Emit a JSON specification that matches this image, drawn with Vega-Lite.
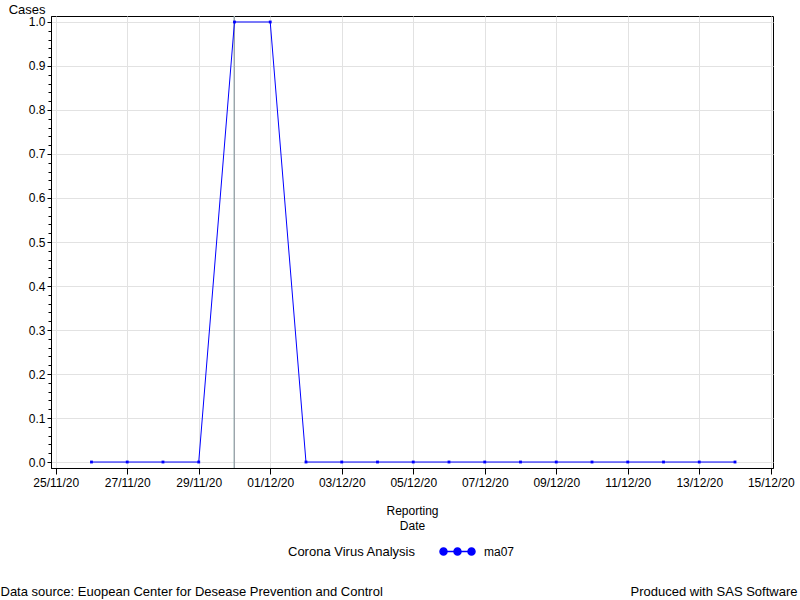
{
  "$schema": "https://vega.github.io/schema/vega-lite/v6.json",
  "width": 722,
  "height": 452,
  "autosize": {"type": "none"},
  "padding": {"left": 51, "top": 16, "right": 27, "bottom": 132},
  "background": "white",
  "config": {
    "font": "Liberation Sans",
    "view": {"stroke": "black", "strokeWidth": 1},
    "axis": {
      "labelFont": "Liberation Sans", "labelFontSize": 12, "labelColor": "black",
      "titleFont": "Liberation Sans", "titleFontSize": 12, "titleFontWeight": "normal", "titleColor": "black",
      "domainColor": "black", "tickColor": "black", "gridColor": "#e2e2e2"
    },
    "legend": {
      "titleFont": "Liberation Sans", "labelFont": "Liberation Sans"
    }
  },
  "data": {
    "values": [
      {"date": "2020-11-26T00:00:00", "cases": 0, "series": "ma07"},
      {"date": "2020-11-27T00:00:00", "cases": 0, "series": "ma07"},
      {"date": "2020-11-28T00:00:00", "cases": 0, "series": "ma07"},
      {"date": "2020-11-29T00:00:00", "cases": 0, "series": "ma07"},
      {"date": "2020-11-30T00:00:00", "cases": 1, "series": "ma07"},
      {"date": "2020-12-01T00:00:00", "cases": 1, "series": "ma07"},
      {"date": "2020-12-02T00:00:00", "cases": 0, "series": "ma07"},
      {"date": "2020-12-03T00:00:00", "cases": 0, "series": "ma07"},
      {"date": "2020-12-04T00:00:00", "cases": 0, "series": "ma07"},
      {"date": "2020-12-05T00:00:00", "cases": 0, "series": "ma07"},
      {"date": "2020-12-06T00:00:00", "cases": 0, "series": "ma07"},
      {"date": "2020-12-07T00:00:00", "cases": 0, "series": "ma07"},
      {"date": "2020-12-08T00:00:00", "cases": 0, "series": "ma07"},
      {"date": "2020-12-09T00:00:00", "cases": 0, "series": "ma07"},
      {"date": "2020-12-10T00:00:00", "cases": 0, "series": "ma07"},
      {"date": "2020-12-11T00:00:00", "cases": 0, "series": "ma07"},
      {"date": "2020-12-12T00:00:00", "cases": 0, "series": "ma07"},
      {"date": "2020-12-13T00:00:00", "cases": 0, "series": "ma07"},
      {"date": "2020-12-14T00:00:00", "cases": 0, "series": "ma07"}
    ]
  },
  "layer": [
    {
      "mark": {"type": "rule", "color": "#9ea4ab", "strokeWidth": 1},
      "encoding": {
        "x": {
          "datum": {"year": 2020, "month": 11, "date": 30},
          "type": "temporal",
          "scale": {"domain": [{"year": 2020, "month": 11, "date": 24, "hours": 20, "minutes": 50}, {"year": 2020, "month": 12, "date": 15, "hours": 1, "minutes": 30}]},
          "axis": {
            "orient": "bottom", "title": "Produced with SAS Software",
            "labels": false, "ticks": false, "domain": false, "grid": false, "titleFontSize": 13,
            "titleAnchor": "end", "titleAlign": "right", "titleX": 746, "titleY": 127, "titleBaseline": "alphabetic"
          }
        }
      }
    },
    {
      "mark": {"type": "line", "color": "#0000ff", "strokeWidth": 1},
      "encoding": {
        "x": {
          "field": "date", "type": "temporal",
          "scale": {"domain": [{"year": 2020, "month": 11, "date": 24, "hours": 20, "minutes": 50}, {"year": 2020, "month": 12, "date": 15, "hours": 1, "minutes": 30}]},
          "axis": {
            "orient": "bottom", "title": ["Reporting", "Date"], "format": "%d/%m/%y",
            "values": [
              {"year": 2020, "month": 11, "date": 25}, {"year": 2020, "month": 11, "date": 27}, {"year": 2020, "month": 11, "date": 29},
              {"year": 2020, "month": 12, "date": 1}, {"year": 2020, "month": 12, "date": 3}, {"year": 2020, "month": 12, "date": 5},
              {"year": 2020, "month": 12, "date": 7}, {"year": 2020, "month": 12, "date": 9}, {"year": 2020, "month": 12, "date": 11},
              {"year": 2020, "month": 12, "date": 13}, {"year": 2020, "month": 12, "date": 15}
            ],
            "tickSize": 6, "labelPadding": 3, "titlePadding": 17, "titleLineHeight": 15, "grid": true,
            "labelFlush": false, "labelOverlap": false
          }
        },
        "y": {
          "field": "cases", "type": "quantitative",
          "scale": {"domain": [-0.0136, 1.0136], "nice": false, "zero": false},
          "axis": {
            "orient": "left",
            "title": "Cases", "titleAngle": 0, "titleAlign": "right", "titleX": -6, "titleY": -3, "titleBaseline": "alphabetic", "titleFontSize": 13,
            "values": [0, 0.1, 0.2, 0.3, 0.4, 0.5, 0.6, 0.7, 0.8, 0.9, 1.0],
            "format": ".1f", "tickSize": 4, "labelPadding": 2, "grid": true, "labelOverlap": false
          }
        },
        "color": {
          "field": "series", "type": "nominal",
          "scale": {"range": ["#0000ff"]},
          "legend": {
            "orient": "none", "legendX": 237, "legendY": 517, "direction": "horizontal",
            "title": "Corona Virus Analysis", "titleOrient": "left", "titleAnchor": "middle", "titleBaseline": "top",
            "titleFontSize": 13, "titleFontWeight": "normal", "titleColor": "black",
            "labelFontSize": 12, "labelColor": "black",
            "symbolType": "M-0.8,0L0.8,0M-1,0a0.2,0.2 0 1,0 0.4,0a0.2,0.2 0 1,0 -0.4,0M-0.2,0a0.2,0.2 0 1,0 0.4,0a0.2,0.2 0 1,0 -0.4,0M0.6,0a0.2,0.2 0 1,0 0.4,0a0.2,0.2 0 1,0 -0.4,0",
            "symbolSize": 1225, "symbolStrokeWidth": 1.5,
            "symbolFillColor": "#0000ff", "symbolStrokeColor": "#0000ff",
            "titlePadding": 23, "labelOffset": 8
          }
        }
      }
    },
    {
      "mark": {"type": "point", "shape": "square", "filled": true, "size": 8, "opacity": 1, "color": "#0000ff"},
      "encoding": {
        "x": {
          "field": "date", "type": "temporal",
          "scale": {"domain": [{"year": 2020, "month": 11, "date": 24, "hours": 20, "minutes": 50}, {"year": 2020, "month": 12, "date": 15, "hours": 1, "minutes": 30}]},
          "axis": {
            "orient": "bottom", "title": "Data source: Euopean Center for Desease Prevention and Control",
            "labels": false, "ticks": false, "domain": false, "grid": false, "titleFontSize": 13,
            "titleAnchor": "start", "titleAlign": "left", "titleX": -51, "titleY": 127, "titleBaseline": "alphabetic"
          }
        },
        "y": {
          "field": "cases", "type": "quantitative",
          "scale": {"domain": [-0.0136, 1.0136], "nice": false, "zero": false},
          "axis": {
            "orient": "left", "title": null,
            "values": [0.02, 0.04, 0.06, 0.08, 0.12, 0.14, 0.16, 0.18, 0.22, 0.24, 0.26, 0.28, 0.32, 0.34, 0.36, 0.38, 0.42, 0.44, 0.46, 0.48, 0.52, 0.54, 0.56, 0.58, 0.62, 0.64, 0.66, 0.68, 0.72, 0.74, 0.76, 0.78, 0.82, 0.84, 0.86, 0.88, 0.92, 0.94, 0.96, 0.98],
            "labels": false, "grid": false, "domain": false, "tickSize": 3
          }
        },
        "color": {
          "field": "series", "type": "nominal",
          "scale": {"range": ["#0000ff"]}
        }
      }
    }
  ],
  "resolve": {"scale": {"x": "shared", "y": "shared"}, "axis": {"x": "independent", "y": "independent"}}
}
